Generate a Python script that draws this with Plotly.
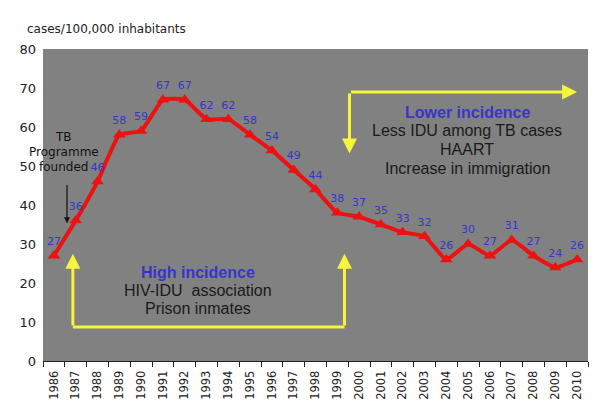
import plotly.graph_objects as go

years = [str(y) for y in range(1986, 2011)]
cases = [27, 36, 46, 58, 59, 67, 67, 62, 62, 58, 54, 49, 44, 38, 37, 35, 33, 32, 26, 30, 27, 31, 27, 24, 26]
y_ticks = [0, 10, 20, 30, 40, 50, 60, 70, 80]

BLUE = "#3636c8"
YEL = "#f5f53a"
FONT_A = "Liberation Sans"
FONT_V = "DejaVu Sans"

fig = go.Figure()
fig.add_trace(go.Scatter(
    x=years, y=cases, mode="lines+markers+text",
    line=dict(color="#ee1111", width=4, shape="spline", smoothing=0.4),
    marker=dict(symbol="triangle-up", size=11, color="#ee1111"),
    text=[str(v) for v in cases], textposition="top center",
    textfont=dict(family=FONT_V, size=11, color=BLUE),
    cliponaxis=False, showlegend=False, hoverinfo="skip",
))

fig.update_layout(
    width=600, height=418,
    margin=dict(l=43, r=12, t=49, b=57, autoexpand=False),
    paper_bgcolor="white", plot_bgcolor="#818181",
    xaxis=dict(type="category", tickson="boundaries", ticks="outside", ticklen=5,
               tickcolor="#222", showline=True, linecolor="#222", linewidth=1,
               showgrid=False, tickangle=-90, range=[-0.5, 24.5], automargin=False,
               ticklabelstandoff=4,
               tickfont=dict(family=FONT_V, size=11.5, color="#222")),
    yaxis=dict(range=[0, 80], tickvals=y_ticks, showgrid=False, zeroline=False,
               ticks="", automargin=False, ticklabelstandoff=6,
               tickfont=dict(family=FONT_V, size=13, color="#222")),
)

anns = []
anns.append(dict(xref="paper", yref="paper", x=-0.033, y=1.035, xanchor="left", yanchor="bottom",
                 text="cases/100,000 inhabitants", showarrow=False,
                 font=dict(family=FONT_V, size=12, color="#222")))
for txt, yy in [("TB", 57.5), ("Programme", 53.6), ("founded", 49.7)]:
    anns.append(dict(x=0.46, y=yy, text=txt, showarrow=False,
                     font=dict(family=FONT_V, size=12, color="#111")))
# black arrow
anns.append(dict(x=0.6, y=35.3, ax=0.6, ay=45.5, axref="x", ayref="y", text="",
                 showarrow=True, arrowhead=2, arrowsize=1, arrowwidth=1.2, arrowcolor="#111"))
# yellow arrows lower
for xx in [0.87, 13.33]:
    anns.append(dict(x=xx, y=27.5, ax=xx, ay=8.7, axref="x", ayref="y", text="",
                     showarrow=True, arrowhead=2, arrowsize=1, arrowwidth=3, arrowcolor=YEL))
# yellow arrows upper
anns.append(dict(x=13.56, y=53.2, ax=13.56, ay=69.0, axref="x", ayref="y", text="",
                 showarrow=True, arrowhead=2, arrowsize=1, arrowwidth=3, arrowcolor=YEL))
anns.append(dict(x=24.0, y=69.0, ax=13.56, ay=69.0, axref="x", ayref="y", text="",
                 showarrow=True, arrowhead=2, arrowsize=1, arrowwidth=3, arrowcolor=YEL))
# text blocks
def px2y(py):
    return (360 - py) / 3.8875

anns.append(dict(x=6.6, y=px2y(272), text="<b>High incidence</b>", showarrow=False,
                 font=dict(family=FONT_A, size=16, color=BLUE)))
for txt, py in [("HIV-IDU  association", 290), ("Prison inmates", 308)]:
    anns.append(dict(x=6.6, y=px2y(py), text=txt, showarrow=False,
                     font=dict(family=FONT_A, size=16, color="#1a1a1a")))
anns.append(dict(x=18.96, y=px2y(112), text="<b>Lower incidence</b>", showarrow=False,
                 font=dict(family=FONT_A, size=16, color=BLUE)))
for txt, py in [("Less IDU among TB cases", 130), ("HAART", 149), ("Increase in immigration", 168)]:
    anns.append(dict(x=18.96, y=px2y(py), text=txt, showarrow=False,
                     font=dict(family=FONT_A, size=16, color="#1a1a1a")))
fig.update_layout(annotations=anns)

fig.add_shape(type="line", x0=0.87, x1=13.33, y0=8.7, y1=8.7, xref="x", yref="y",
              line=dict(color=YEL, width=3))

fig.write_html("out.html", config={"displayModeBar": False},
               post_script="document.body.style.margin='0';document.body.style.overflow='hidden';")
